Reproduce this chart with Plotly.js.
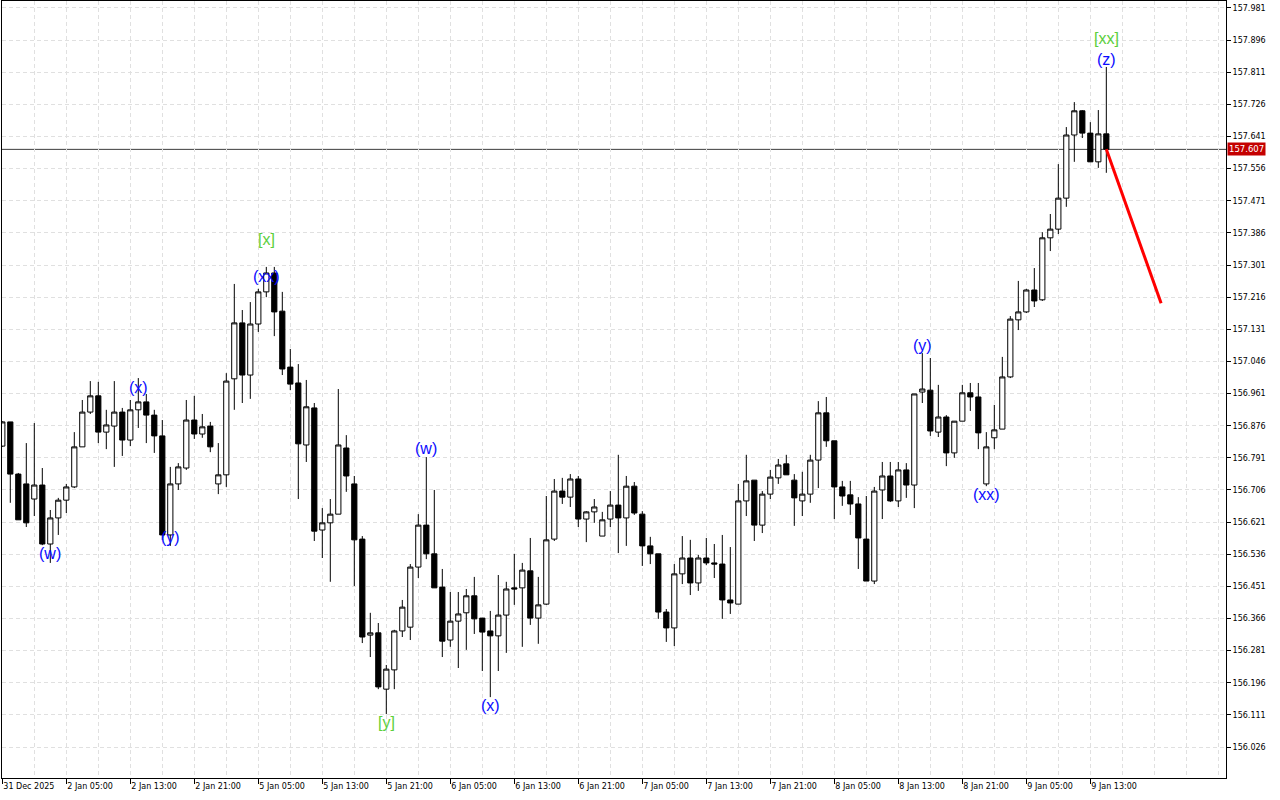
<!DOCTYPE html>
<html>
<head>
<meta charset="utf-8">
<script src="https://cdn.plot.ly/plotly-3.0.1.min.js"></script>
<style>html,body{margin:0;padding:0;background:#fff;}#chart{width:1280px;height:800px;}</style>
</head>
<body>
<div id="chart"></div>
<script>
// ---- data (hourly candles) ----
const opens = [156.822,156.886,156.748,156.722,156.682,156.719,156.563,156.632,156.679,156.714,
156.820,156.912,156.955,156.859,156.875,156.912,156.838,156.918,156.939,156.904,
156.849,156.587,156.722,156.764,156.891,156.854,156.875,156.722,156.746,157.000,
157.148,157.010,157.145,157.230,157.280,157.179,157.031,156.989,156.825,156.923,
156.600,156.619,156.642,156.817,156.722,156.576,156.322,156.328,156.179,156.230,
156.333,156.343,156.502,156.613,156.537,156.449,156.309,156.359,156.381,156.426,
156.367,156.333,156.320,156.375,156.447,156.447,156.492,156.367,156.404,156.576,
156.703,156.687,156.735,156.629,156.648,156.584,156.629,156.666,156.632,156.716,
156.642,156.558,156.537,156.383,156.341,156.484,156.526,156.460,156.526,156.513,
156.510,156.415,156.404,156.677,156.732,156.613,156.695,156.738,156.775,156.732,
156.677,156.695,156.785,156.910,156.836,156.714,156.693,156.669,156.576,156.465,
156.706,156.743,156.677,156.759,156.719,156.965,156.970,156.859,156.899,156.804,
156.888,156.963,156.952,156.722,156.844,156.867,157.005,157.156,157.177,157.235,
157.209,157.373,157.396,157.478,157.645,157.709,157.650,157.574,157.648];
const highs = [156.888,156.886,156.751,156.830,156.883,156.764,156.653,156.685,156.722,156.859,
156.944,156.994,156.992,156.918,156.994,156.923,156.944,157.002,156.960,156.918,
156.891,156.767,156.777,156.944,156.955,156.907,156.886,156.830,157.015,157.251,
157.182,157.203,157.238,157.296,157.296,157.230,157.079,157.039,156.997,156.936,
156.658,156.682,156.973,156.851,156.743,156.584,156.381,156.354,156.243,156.336,
156.415,156.510,156.642,156.793,156.706,156.497,156.436,156.436,156.444,156.476,
156.367,156.386,156.481,156.463,156.537,156.513,156.579,156.476,156.690,156.735,
156.738,156.748,156.743,156.650,156.682,156.648,156.703,156.799,156.743,156.727,
156.650,156.582,156.537,156.391,156.510,156.584,156.574,156.534,156.579,156.563,
156.587,156.555,156.722,156.799,156.732,156.703,156.759,156.788,156.799,156.748,
156.754,156.799,156.941,156.952,156.836,156.730,156.730,156.687,156.690,156.714,
156.780,156.780,156.780,156.777,156.960,157.068,157.055,156.984,156.904,156.888,
156.984,156.989,156.989,156.859,156.931,157.058,157.166,157.259,157.238,157.293,
157.388,157.436,157.568,157.666,157.732,157.711,157.679,157.711,157.825];
const lows = [156.820,156.672,156.627,156.608,156.637,156.560,156.513,156.587,156.645,156.711,
156.820,156.907,156.830,156.814,156.767,156.796,156.822,156.870,156.830,156.804,
156.574,156.558,156.706,156.759,156.841,156.844,156.806,156.695,156.714,156.918,
156.936,156.947,157.124,157.216,157.113,157.010,156.970,156.682,156.780,156.571,
156.526,156.463,156.642,156.701,156.452,156.301,156.264,156.179,156.113,156.179,
156.317,156.309,156.473,156.523,156.447,156.264,156.291,156.235,156.283,156.325,
156.227,156.158,156.227,156.275,156.402,156.291,156.349,156.299,156.402,156.571,
156.669,156.661,156.608,156.568,156.619,156.584,156.608,156.539,156.558,156.640,
156.505,156.510,156.365,156.304,156.293,156.457,156.428,156.439,156.507,156.473,
156.365,156.378,156.404,156.637,156.571,156.592,156.682,156.722,156.746,156.611,
156.637,156.672,156.711,156.820,156.629,156.664,156.640,156.497,156.465,156.457,
156.629,156.674,156.661,156.685,156.658,156.936,156.849,156.846,156.769,156.791,
156.888,156.915,156.814,156.716,156.814,156.867,157.002,157.129,157.174,157.190,
157.206,157.338,157.383,157.455,157.574,157.637,157.574,157.558,157.545];
const closes = [156.886,156.748,156.627,156.619,156.719,156.563,156.632,156.679,156.714,156.820,
156.912,156.955,156.859,156.878,156.912,156.838,156.918,156.939,156.904,156.849,
156.587,156.722,156.767,156.891,156.854,156.873,156.820,156.746,156.994,157.148,
157.010,157.145,157.230,157.280,157.177,157.026,156.986,156.828,156.926,156.597,
156.619,156.642,156.825,156.743,156.574,156.317,156.328,156.185,156.232,156.333,
156.396,156.502,156.613,156.537,156.447,156.306,156.359,156.378,156.426,156.365,
156.330,156.320,156.375,156.444,156.444,156.494,156.367,156.402,156.574,156.703,
156.687,156.735,156.629,156.648,156.661,156.627,156.666,156.632,156.716,156.645,
156.558,156.537,156.383,156.341,156.484,156.526,156.460,156.526,156.513,156.510,
156.415,156.407,156.677,156.730,156.613,156.695,156.740,156.772,156.746,156.685,
156.695,156.785,156.910,156.836,156.714,156.690,156.669,156.579,156.465,156.703,
156.743,156.677,156.759,156.719,156.960,156.973,156.862,156.899,156.804,156.888,
156.963,156.952,156.857,156.820,156.865,157.005,157.158,157.177,157.235,157.206,
157.373,157.396,157.478,157.645,157.709,157.650,157.574,157.648,157.607];

const xTickLabels = ["31 Dec 2025","2 Jan 05:00","2 Jan 13:00","2 Jan 21:00","5 Jan 05:00","5 Jan 13:00",
"5 Jan 21:00","6 Jan 05:00","6 Jan 13:00","6 Jan 21:00","7 Jan 05:00","7 Jan 13:00","7 Jan 21:00",
"8 Jan 05:00","8 Jan 13:00","8 Jan 21:00","9 Jan 05:00","9 Jan 13:00"];
const barsPerLabel = 8;
const yTickValues = [156.026,156.111,156.196,156.281,156.366,156.451,156.536,156.621,156.706,156.791,
156.876,156.961,157.046,157.131,157.216,157.301,157.386,157.471,157.556,157.641,157.726,157.811,157.896,157.981];
const currentPrice = 157.607;

// wave labels: text, bar index, price level, colour group
const waveText  = ["(w)","(x)","(y)","[x]","(xx)","(w)","[y]","(x)","(y)","(xx)","[xx]","(z)"];
const waveBar   = [6,17,21,33,33,53,48,61,115,123,138,138];
const wavePrice = [156.539,156.978,156.579,157.368,157.270,156.817,156.090,156.137,157.089,156.693,157.899,157.846];
const waveGreen = [false,false,false,true,false,false,true,false,false,false,true,false];

// forecast line
const forecastBar   = [138, 144.85];
const forecastPrice = [157.607, 157.200];

// ---- build ----
const idx = closes.map((_, i) => i);
const tickvals = xTickLabels.map((_, i) => i * barsPerLabel);

const candle = {
  type: 'candlestick', x: idx, open: opens, high: highs, low: lows, close: closes,
  increasing: {fillcolor: '#ffffff', line: {color: '#000000', width: 1}},
  decreasing: {fillcolor: '#000000', line: {color: '#000000', width: 1}},
  whiskerwidth: 0, hoverinfo: 'skip', showlegend: false
};
const forecast = {
  type: 'scatter', mode: 'lines', x: forecastBar, y: forecastPrice,
  line: {color: '#ff0000', width: 3}, hoverinfo: 'skip', showlegend: false
};

const annotations = waveText.map((t, i) => ({
  x: waveBar[i], y: wavePrice[i], xref: 'x', yref: 'y', text: t, showarrow: false,
  xanchor: 'center', yanchor: 'middle',
  font: {family: 'Liberation Sans, Arial, sans-serif', size: 16, color: waveGreen[i] ? '#5ccf3c' : '#0a0aff'}
}));
annotations.push({
  x: 1, xref: 'paper', y: currentPrice, yref: 'y', text: currentPrice.toFixed(3), showarrow: false,
  xanchor: 'left', yanchor: 'middle', xshift: 1, bgcolor: '#c40000', borderpad: 1,
  font: {family: 'DejaVu Sans, sans-serif', size: 8.5, color: '#ffffff'}
});

const layout = {
  width: 1280, height: 800,
  margin: {l: 2, r: 54, t: 1, b: 22, pad: 0},
  paper_bgcolor: '#ffffff', plot_bgcolor: '#ffffff',
  showlegend: false,
  boxgap: 0.35, boxgroupgap: 0,
  xaxis: {
    range: [-0.0375, 152.96], rangeslider: {visible: false},
    tickmode: 'array', tickvals: tickvals, ticktext: xTickLabels,
    ticks: 'outside', ticklen: 5, tickcolor: '#000', ticklabelposition: 'outside right',
    tickfont: {family: 'DejaVu Sans, sans-serif', size: 8, color: '#000'},
    showgrid: true, gridcolor: '#e0e0e0', griddash: '4px,3px', gridwidth: 1,
    minor: {dtick: 4, tick0: 0, showgrid: true, gridcolor: '#e0e0e0', griddash: '4px,3px', ticks: ''},
    showline: true, linecolor: '#000', linewidth: 1, mirror: true, zeroline: false, fixedrange: true
  },
  yaxis: {
    side: 'right', range: [155.944, 157.9995],
    tickmode: 'array', tickvals: yTickValues, ticktext: yTickValues.map(v => v.toFixed(3)),
    ticks: 'outside', ticklen: 4, tickcolor: '#000',
    tickfont: {family: 'DejaVu Sans, sans-serif', size: 8, color: '#000'},
    showgrid: true, gridcolor: '#e0e0e0', griddash: '4px,3px', gridwidth: 1,
    showline: true, linecolor: '#000', linewidth: 1, mirror: true, zeroline: false, fixedrange: true
  },
  shapes: [{
    type: 'line', xref: 'paper', x0: 0, x1: 1, yref: 'y', y0: currentPrice, y1: currentPrice,
    line: {color: '#3c3c3c', width: 1}, layer: 'below'
  }],
  annotations: annotations
};

Plotly.newPlot('chart', [candle, forecast], layout, {staticPlot: true, displayModeBar: false});
</script>
</body>
</html>
